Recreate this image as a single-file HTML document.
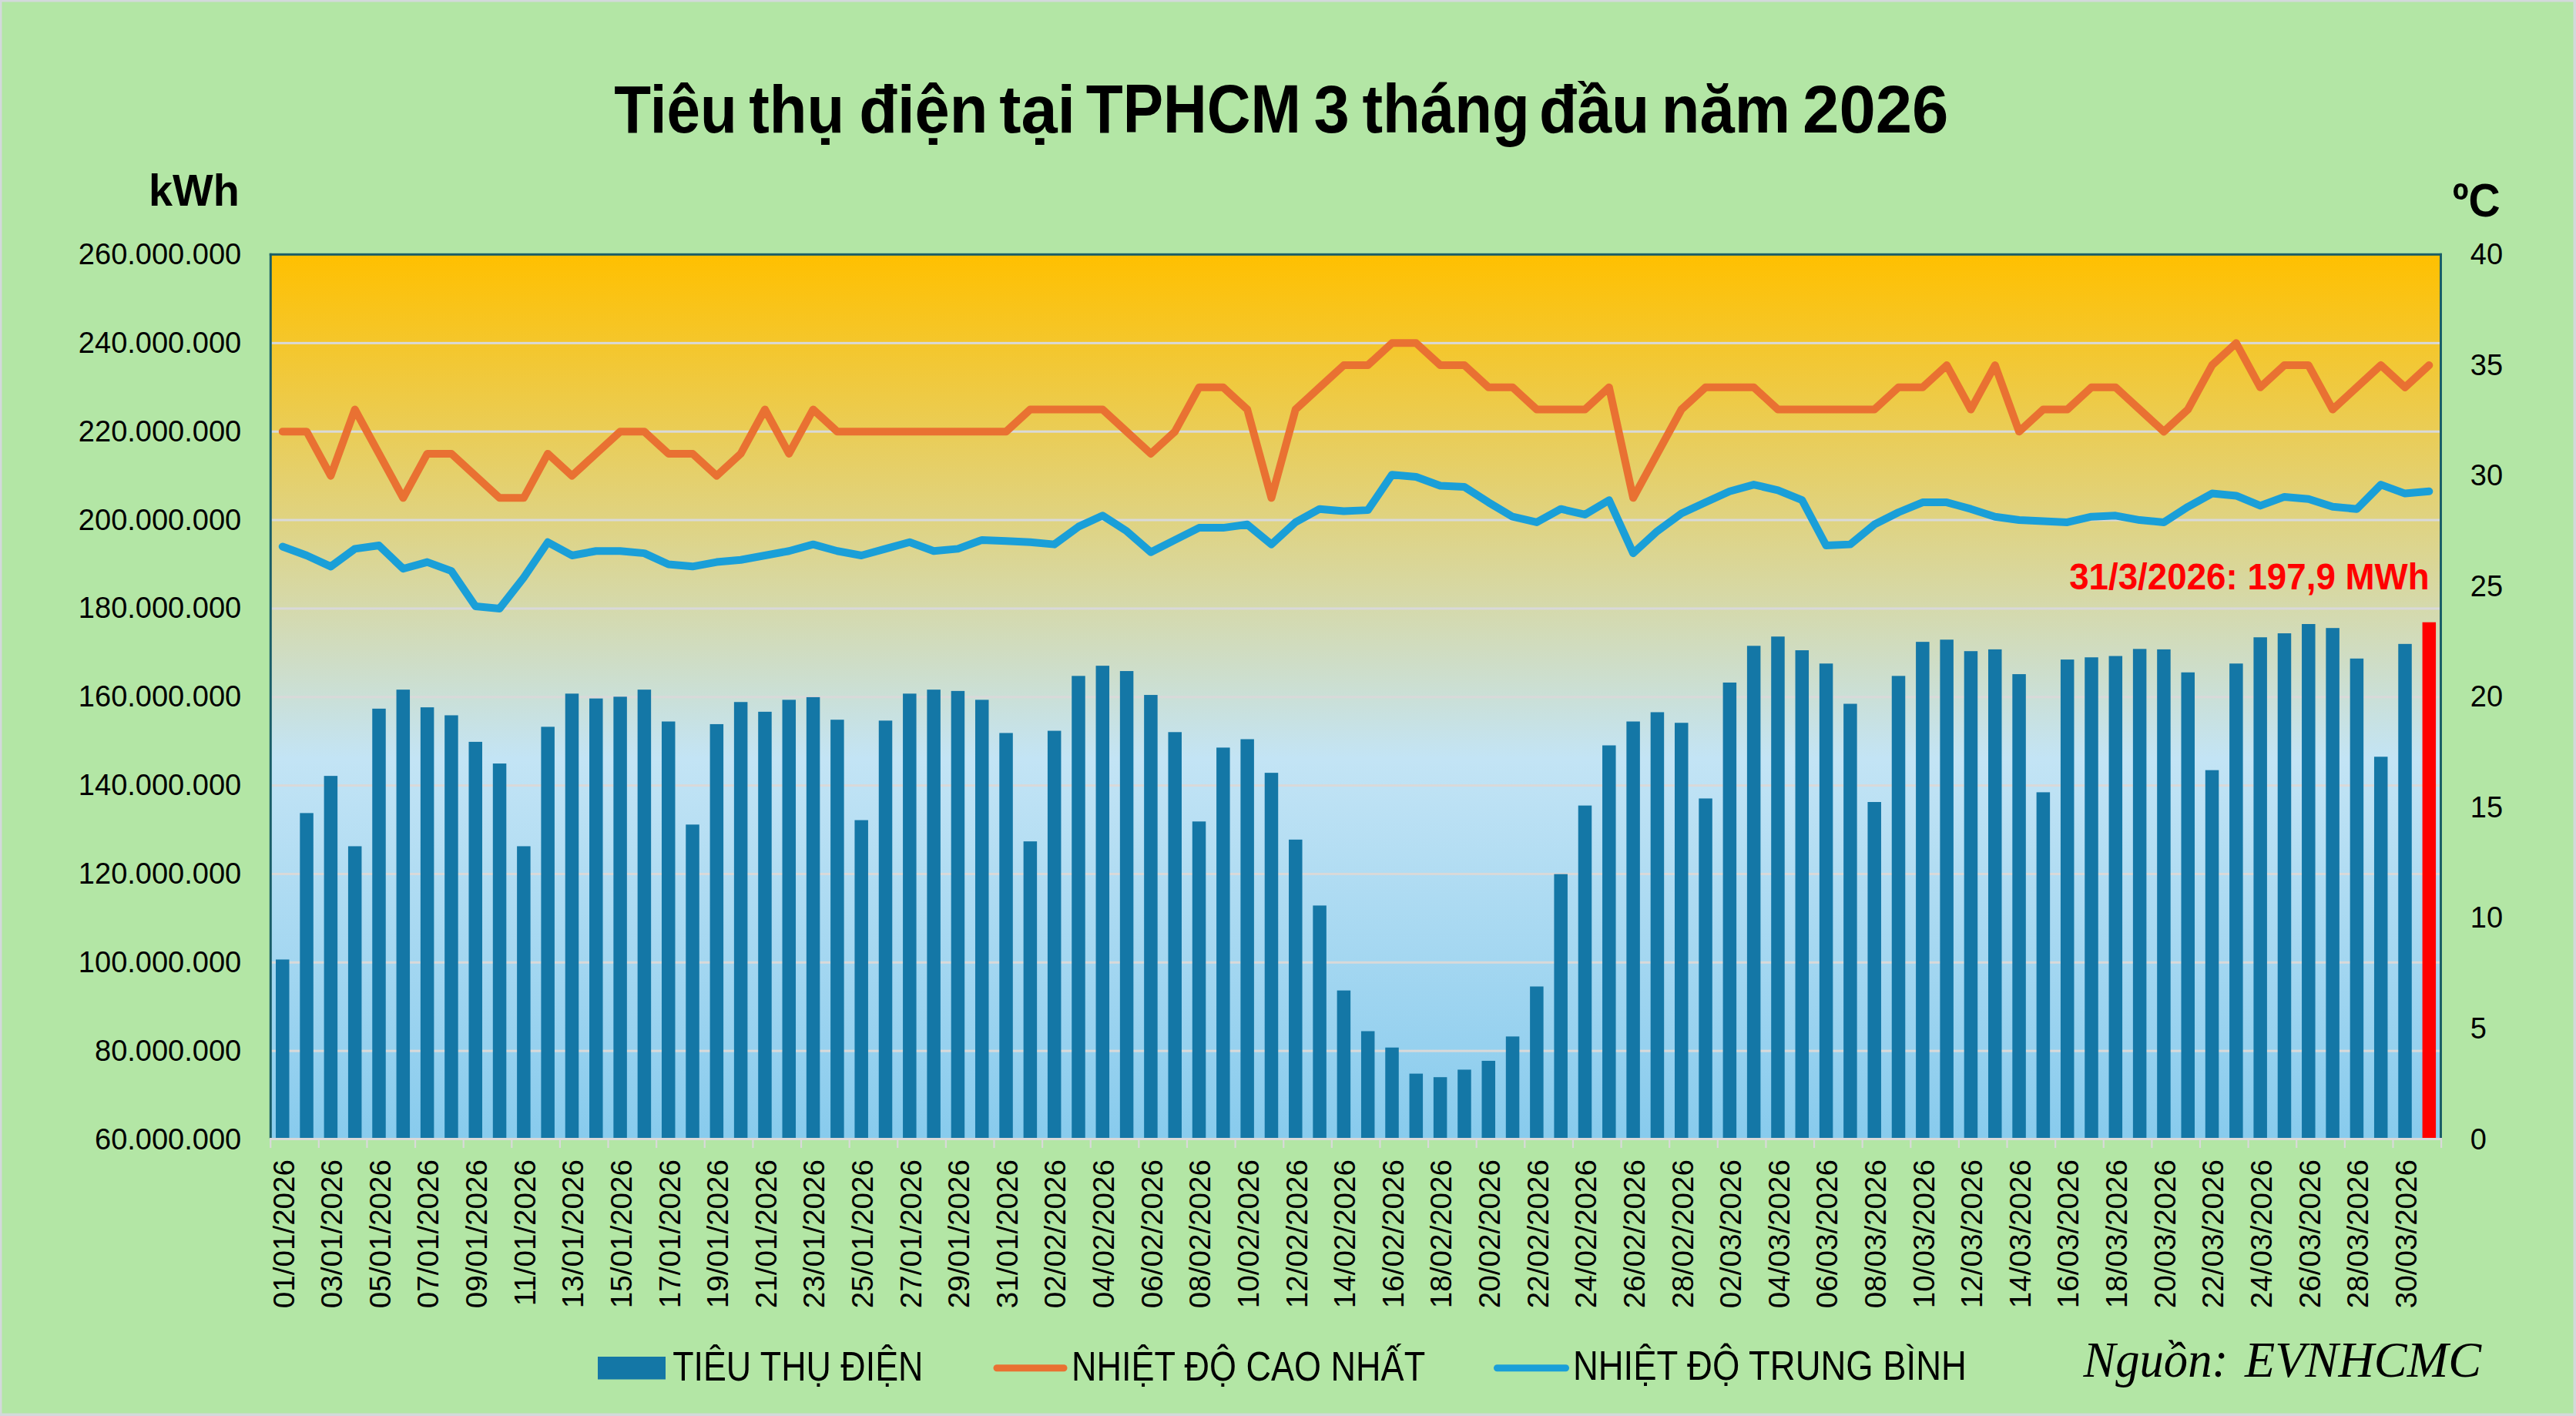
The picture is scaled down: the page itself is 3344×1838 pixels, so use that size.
<!DOCTYPE html><html><head><meta charset="utf-8"><style>html,body{margin:0;padding:0;width:3344px;height:1838px;overflow:hidden;background:#B3E6A5}</style></head><body><svg width="3344" height="1838" viewBox="0 0 3344 1838" style="display:block">
<defs><linearGradient id="pg" x1="0" y1="0" x2="0" y2="1"><stop offset="0" stop-color="#FFC000"/><stop offset="0.57" stop-color="#C3E4F5"/><stop offset="1" stop-color="#88CBED"/></linearGradient></defs>
<rect x="0" y="0" width="3344" height="1838" fill="#D3D9DB"/>
<rect x="2.5" y="2.5" width="3338.0" height="1832.0" fill="#B3E6A5"/>
<rect x="351" y="330" width="2817.5" height="1148" fill="url(#pg)"/>
<rect x="352" y="1362.65" width="2815" height="3" fill="#D9D9D9"/>
<rect x="352" y="1247.80" width="2815" height="3" fill="#D9D9D9"/>
<rect x="352" y="1132.95" width="2815" height="3" fill="#D9D9D9"/>
<rect x="352" y="1018.10" width="2815" height="3" fill="#D9D9D9"/>
<rect x="352" y="903.25" width="2815" height="3" fill="#D9D9D9"/>
<rect x="352" y="788.40" width="2815" height="3" fill="#D9D9D9"/>
<rect x="352" y="673.55" width="2815" height="3" fill="#D9D9D9"/>
<rect x="352" y="558.70" width="2815" height="3" fill="#D9D9D9"/>
<rect x="352" y="443.85" width="2815" height="3" fill="#D9D9D9"/>
<rect x="358.00" y="1245.45" width="17.5" height="231.55" fill="#1477A6"/>
<rect x="389.31" y="1055.38" width="17.5" height="421.62" fill="#1477A6"/>
<rect x="420.62" y="1007.14" width="17.5" height="469.86" fill="#1477A6"/>
<rect x="451.94" y="1098.44" width="17.5" height="378.56" fill="#1477A6"/>
<rect x="483.25" y="919.85" width="17.5" height="557.15" fill="#1477A6"/>
<rect x="514.56" y="895.16" width="17.5" height="581.84" fill="#1477A6"/>
<rect x="545.87" y="918.13" width="17.5" height="558.87" fill="#1477A6"/>
<rect x="577.17" y="928.47" width="17.5" height="548.53" fill="#1477A6"/>
<rect x="608.49" y="962.92" width="17.5" height="514.08" fill="#1477A6"/>
<rect x="639.80" y="991.06" width="17.5" height="485.94" fill="#1477A6"/>
<rect x="671.11" y="1098.44" width="17.5" height="378.56" fill="#1477A6"/>
<rect x="702.41" y="943.40" width="17.5" height="533.60" fill="#1477A6"/>
<rect x="733.73" y="900.33" width="17.5" height="576.67" fill="#1477A6"/>
<rect x="765.04" y="906.65" width="17.5" height="570.35" fill="#1477A6"/>
<rect x="796.35" y="904.35" width="17.5" height="572.65" fill="#1477A6"/>
<rect x="827.65" y="895.16" width="17.5" height="581.84" fill="#1477A6"/>
<rect x="858.97" y="936.51" width="17.5" height="540.49" fill="#1477A6"/>
<rect x="890.27" y="1070.31" width="17.5" height="406.69" fill="#1477A6"/>
<rect x="921.59" y="939.95" width="17.5" height="537.05" fill="#1477A6"/>
<rect x="952.89" y="911.24" width="17.5" height="565.76" fill="#1477A6"/>
<rect x="984.21" y="923.87" width="17.5" height="553.13" fill="#1477A6"/>
<rect x="1015.51" y="908.37" width="17.5" height="568.63" fill="#1477A6"/>
<rect x="1046.83" y="904.92" width="17.5" height="572.08" fill="#1477A6"/>
<rect x="1078.13" y="934.21" width="17.5" height="542.79" fill="#1477A6"/>
<rect x="1109.44" y="1064.56" width="17.5" height="412.44" fill="#1477A6"/>
<rect x="1140.76" y="935.36" width="17.5" height="541.64" fill="#1477A6"/>
<rect x="1172.07" y="900.33" width="17.5" height="576.67" fill="#1477A6"/>
<rect x="1203.38" y="895.16" width="17.5" height="581.84" fill="#1477A6"/>
<rect x="1234.68" y="896.88" width="17.5" height="580.12" fill="#1477A6"/>
<rect x="1265.99" y="908.37" width="17.5" height="568.63" fill="#1477A6"/>
<rect x="1297.30" y="951.44" width="17.5" height="525.56" fill="#1477A6"/>
<rect x="1328.62" y="1092.13" width="17.5" height="384.87" fill="#1477A6"/>
<rect x="1359.92" y="948.57" width="17.5" height="528.43" fill="#1477A6"/>
<rect x="1391.24" y="877.36" width="17.5" height="599.64" fill="#1477A6"/>
<rect x="1422.55" y="864.15" width="17.5" height="612.85" fill="#1477A6"/>
<rect x="1453.86" y="871.04" width="17.5" height="605.96" fill="#1477A6"/>
<rect x="1485.16" y="902.05" width="17.5" height="574.95" fill="#1477A6"/>
<rect x="1516.47" y="950.29" width="17.5" height="526.71" fill="#1477A6"/>
<rect x="1547.78" y="1066.29" width="17.5" height="410.71" fill="#1477A6"/>
<rect x="1579.09" y="970.39" width="17.5" height="506.61" fill="#1477A6"/>
<rect x="1610.40" y="959.48" width="17.5" height="517.52" fill="#1477A6"/>
<rect x="1641.72" y="1003.12" width="17.5" height="473.88" fill="#1477A6"/>
<rect x="1673.03" y="1089.83" width="17.5" height="387.17" fill="#1477A6"/>
<rect x="1704.34" y="1175.39" width="17.5" height="301.61" fill="#1477A6"/>
<rect x="1735.64" y="1285.65" width="17.5" height="191.35" fill="#1477A6"/>
<rect x="1766.95" y="1338.48" width="17.5" height="138.52" fill="#1477A6"/>
<rect x="1798.26" y="1359.73" width="17.5" height="117.27" fill="#1477A6"/>
<rect x="1829.57" y="1393.61" width="17.5" height="83.39" fill="#1477A6"/>
<rect x="1860.88" y="1398.20" width="17.5" height="78.80" fill="#1477A6"/>
<rect x="1892.20" y="1388.44" width="17.5" height="88.56" fill="#1477A6"/>
<rect x="1923.51" y="1376.96" width="17.5" height="100.04" fill="#1477A6"/>
<rect x="1954.82" y="1345.37" width="17.5" height="131.63" fill="#1477A6"/>
<rect x="1986.12" y="1280.48" width="17.5" height="196.52" fill="#1477A6"/>
<rect x="2017.43" y="1134.62" width="17.5" height="342.38" fill="#1477A6"/>
<rect x="2048.74" y="1045.61" width="17.5" height="431.39" fill="#1477A6"/>
<rect x="2080.05" y="967.52" width="17.5" height="509.48" fill="#1477A6"/>
<rect x="2111.36" y="936.51" width="17.5" height="540.49" fill="#1477A6"/>
<rect x="2142.67" y="924.45" width="17.5" height="552.55" fill="#1477A6"/>
<rect x="2173.99" y="938.23" width="17.5" height="538.77" fill="#1477A6"/>
<rect x="2205.30" y="1036.43" width="17.5" height="440.57" fill="#1477A6"/>
<rect x="2236.61" y="885.97" width="17.5" height="591.03" fill="#1477A6"/>
<rect x="2267.91" y="838.31" width="17.5" height="638.69" fill="#1477A6"/>
<rect x="2299.22" y="826.25" width="17.5" height="650.75" fill="#1477A6"/>
<rect x="2330.53" y="844.05" width="17.5" height="632.95" fill="#1477A6"/>
<rect x="2361.84" y="861.28" width="17.5" height="615.72" fill="#1477A6"/>
<rect x="2393.15" y="913.54" width="17.5" height="563.46" fill="#1477A6"/>
<rect x="2424.46" y="1041.02" width="17.5" height="435.98" fill="#1477A6"/>
<rect x="2455.77" y="877.36" width="17.5" height="599.64" fill="#1477A6"/>
<rect x="2487.09" y="833.14" width="17.5" height="643.86" fill="#1477A6"/>
<rect x="2518.39" y="830.27" width="17.5" height="646.73" fill="#1477A6"/>
<rect x="2549.70" y="845.20" width="17.5" height="631.80" fill="#1477A6"/>
<rect x="2581.01" y="842.90" width="17.5" height="634.10" fill="#1477A6"/>
<rect x="2612.32" y="875.06" width="17.5" height="601.94" fill="#1477A6"/>
<rect x="2643.63" y="1028.39" width="17.5" height="448.61" fill="#1477A6"/>
<rect x="2674.94" y="856.11" width="17.5" height="620.89" fill="#1477A6"/>
<rect x="2706.25" y="853.24" width="17.5" height="623.76" fill="#1477A6"/>
<rect x="2737.56" y="851.52" width="17.5" height="625.48" fill="#1477A6"/>
<rect x="2768.88" y="842.33" width="17.5" height="634.67" fill="#1477A6"/>
<rect x="2800.18" y="842.90" width="17.5" height="634.10" fill="#1477A6"/>
<rect x="2831.49" y="872.76" width="17.5" height="604.24" fill="#1477A6"/>
<rect x="2862.80" y="999.67" width="17.5" height="477.33" fill="#1477A6"/>
<rect x="2894.11" y="861.28" width="17.5" height="615.72" fill="#1477A6"/>
<rect x="2925.42" y="827.23" width="17.5" height="649.77" fill="#1477A6"/>
<rect x="2956.73" y="822.06" width="17.5" height="654.94" fill="#1477A6"/>
<rect x="2988.04" y="810.00" width="17.5" height="667.00" fill="#1477A6"/>
<rect x="3019.36" y="815.17" width="17.5" height="661.83" fill="#1477A6"/>
<rect x="3050.66" y="854.79" width="17.5" height="622.21" fill="#1477A6"/>
<rect x="3081.97" y="982.27" width="17.5" height="494.73" fill="#1477A6"/>
<rect x="3113.28" y="835.84" width="17.5" height="641.16" fill="#1477A6"/>
<rect x="3144.59" y="807.70" width="17.5" height="669.30" fill="#FF0000"/>
<rect x="349.8" y="328.8" width="2820.2" height="3" fill="#1A5E68"/>
<rect x="349.8" y="328.8" width="3" height="1149.2" fill="#1A5E68"/>
<rect x="3167" y="328.8" width="3" height="1149.2" fill="#1A5E68"/>
<rect x="350" y="1477" width="2820" height="3" fill="#D9D9D9"/>
<rect x="350.10" y="1479" width="2.2" height="11" fill="#D9D9D9"/>
<rect x="412.72" y="1479" width="2.2" height="11" fill="#D9D9D9"/>
<rect x="475.34" y="1479" width="2.2" height="11" fill="#D9D9D9"/>
<rect x="537.96" y="1479" width="2.2" height="11" fill="#D9D9D9"/>
<rect x="600.58" y="1479" width="2.2" height="11" fill="#D9D9D9"/>
<rect x="663.20" y="1479" width="2.2" height="11" fill="#D9D9D9"/>
<rect x="725.82" y="1479" width="2.2" height="11" fill="#D9D9D9"/>
<rect x="788.44" y="1479" width="2.2" height="11" fill="#D9D9D9"/>
<rect x="851.06" y="1479" width="2.2" height="11" fill="#D9D9D9"/>
<rect x="913.68" y="1479" width="2.2" height="11" fill="#D9D9D9"/>
<rect x="976.30" y="1479" width="2.2" height="11" fill="#D9D9D9"/>
<rect x="1038.92" y="1479" width="2.2" height="11" fill="#D9D9D9"/>
<rect x="1101.54" y="1479" width="2.2" height="11" fill="#D9D9D9"/>
<rect x="1164.16" y="1479" width="2.2" height="11" fill="#D9D9D9"/>
<rect x="1226.78" y="1479" width="2.2" height="11" fill="#D9D9D9"/>
<rect x="1289.40" y="1479" width="2.2" height="11" fill="#D9D9D9"/>
<rect x="1352.02" y="1479" width="2.2" height="11" fill="#D9D9D9"/>
<rect x="1414.64" y="1479" width="2.2" height="11" fill="#D9D9D9"/>
<rect x="1477.26" y="1479" width="2.2" height="11" fill="#D9D9D9"/>
<rect x="1539.88" y="1479" width="2.2" height="11" fill="#D9D9D9"/>
<rect x="1602.50" y="1479" width="2.2" height="11" fill="#D9D9D9"/>
<rect x="1665.12" y="1479" width="2.2" height="11" fill="#D9D9D9"/>
<rect x="1727.74" y="1479" width="2.2" height="11" fill="#D9D9D9"/>
<rect x="1790.36" y="1479" width="2.2" height="11" fill="#D9D9D9"/>
<rect x="1852.98" y="1479" width="2.2" height="11" fill="#D9D9D9"/>
<rect x="1915.60" y="1479" width="2.2" height="11" fill="#D9D9D9"/>
<rect x="1978.22" y="1479" width="2.2" height="11" fill="#D9D9D9"/>
<rect x="2040.84" y="1479" width="2.2" height="11" fill="#D9D9D9"/>
<rect x="2103.46" y="1479" width="2.2" height="11" fill="#D9D9D9"/>
<rect x="2166.08" y="1479" width="2.2" height="11" fill="#D9D9D9"/>
<rect x="2228.70" y="1479" width="2.2" height="11" fill="#D9D9D9"/>
<rect x="2291.32" y="1479" width="2.2" height="11" fill="#D9D9D9"/>
<rect x="2353.94" y="1479" width="2.2" height="11" fill="#D9D9D9"/>
<rect x="2416.56" y="1479" width="2.2" height="11" fill="#D9D9D9"/>
<rect x="2479.18" y="1479" width="2.2" height="11" fill="#D9D9D9"/>
<rect x="2541.80" y="1479" width="2.2" height="11" fill="#D9D9D9"/>
<rect x="2604.42" y="1479" width="2.2" height="11" fill="#D9D9D9"/>
<rect x="2667.04" y="1479" width="2.2" height="11" fill="#D9D9D9"/>
<rect x="2729.66" y="1479" width="2.2" height="11" fill="#D9D9D9"/>
<rect x="2792.28" y="1479" width="2.2" height="11" fill="#D9D9D9"/>
<rect x="2854.90" y="1479" width="2.2" height="11" fill="#D9D9D9"/>
<rect x="2917.52" y="1479" width="2.2" height="11" fill="#D9D9D9"/>
<rect x="2980.14" y="1479" width="2.2" height="11" fill="#D9D9D9"/>
<rect x="3042.76" y="1479" width="2.2" height="11" fill="#D9D9D9"/>
<rect x="3105.38" y="1479" width="2.2" height="11" fill="#D9D9D9"/>
<rect x="3168.00" y="1479" width="2.2" height="11" fill="#D9D9D9"/>
<path d="M366.75,560.20 L398.06,560.20 L429.38,617.62 L460.69,531.49 L492.00,588.91 L523.31,646.34 L554.62,588.91 L585.92,588.91 L617.24,617.62 L648.55,646.34 L679.86,646.34 L711.16,588.91 L742.48,617.62 L773.79,588.91 L805.10,560.20 L836.40,560.20 L867.72,588.91 L899.02,588.91 L930.34,617.62 L961.64,588.91 L992.96,531.49 L1024.26,588.91 L1055.58,531.49 L1086.88,560.20 L1118.19,560.20 L1149.51,560.20 L1180.82,560.20 L1212.12,560.20 L1243.43,560.20 L1274.74,560.20 L1306.05,560.20 L1337.37,531.49 L1368.67,531.49 L1399.99,531.49 L1431.30,531.49 L1462.61,560.20 L1493.91,588.91 L1525.22,560.20 L1556.53,502.77 L1587.84,502.77 L1619.15,531.49 L1650.47,646.34 L1681.78,531.49 L1713.09,502.77 L1744.39,474.06 L1775.70,474.06 L1807.01,445.35 L1838.32,445.35 L1869.63,474.06 L1900.95,474.06 L1932.26,502.77 L1963.57,502.77 L1994.88,531.49 L2026.18,531.49 L2057.49,531.49 L2088.80,502.77 L2120.11,646.34 L2151.42,588.91 L2182.74,531.49 L2214.05,502.77 L2245.36,502.77 L2276.66,502.77 L2307.97,531.49 L2339.28,531.49 L2370.59,531.49 L2401.90,531.49 L2433.21,531.49 L2464.52,502.77 L2495.84,502.77 L2527.14,474.06 L2558.45,531.49 L2589.76,474.06 L2621.07,560.20 L2652.38,531.49 L2683.69,531.49 L2715.00,502.77 L2746.31,502.77 L2777.62,531.49 L2808.93,560.20 L2840.24,531.49 L2871.55,474.06 L2902.86,445.35 L2934.17,502.77 L2965.48,474.06 L2996.79,474.06 L3028.11,531.49 L3059.41,502.77 L3090.72,474.06 L3122.03,502.77 L3153.34,474.06" fill="none" stroke="#E97132" stroke-width="10" stroke-linejoin="round" stroke-linecap="round"/>
<path d="M366.75,709.50 L398.06,720.99 L429.38,735.35 L460.69,712.38 L492.00,708.07 L523.31,738.22 L554.62,729.60 L585.92,741.09 L617.24,787.03 L648.55,789.90 L679.86,749.70 L711.16,703.76 L742.48,720.99 L773.79,715.25 L805.10,715.25 L836.40,718.12 L867.72,732.48 L899.02,735.35 L930.34,729.60 L961.64,726.73 L992.96,720.99 L1024.26,715.25 L1055.58,706.63 L1086.88,715.25 L1118.19,720.99 L1149.51,712.38 L1180.82,703.76 L1212.12,715.25 L1243.43,712.38 L1274.74,700.89 L1306.05,702.33 L1337.37,703.76 L1368.67,706.63 L1399.99,683.66 L1431.30,669.31 L1462.61,689.41 L1493.91,716.68 L1525.22,700.89 L1556.53,685.10 L1587.84,685.10 L1619.15,680.79 L1650.47,706.63 L1681.78,677.92 L1713.09,660.69 L1744.39,663.57 L1775.70,662.13 L1807.01,616.19 L1838.32,619.06 L1869.63,630.55 L1900.95,631.98 L1932.26,652.08 L1963.57,670.74 L1994.88,677.92 L2026.18,660.69 L2057.49,667.87 L2088.80,649.21 L2120.11,718.12 L2151.42,689.41 L2182.74,666.44 L2214.05,652.08 L2245.36,637.72 L2276.66,629.11 L2307.97,636.29 L2339.28,649.21 L2370.59,708.07 L2401.90,706.63 L2433.21,680.79 L2464.52,665.00 L2495.84,652.08 L2527.14,652.08 L2558.45,660.69 L2589.76,670.74 L2621.07,675.05 L2652.38,676.49 L2683.69,677.92 L2715.00,670.74 L2746.31,669.31 L2777.62,675.05 L2808.93,677.92 L2840.24,657.82 L2871.55,640.60 L2902.86,643.47 L2934.17,656.39 L2965.48,644.90 L2996.79,647.77 L3028.11,657.82 L3059.41,660.69 L3090.72,629.11 L3122.03,640.60 L3153.34,637.72" fill="none" stroke="#1A9FD8" stroke-width="10" stroke-linejoin="round" stroke-linecap="round"/>
<text x="313.2" y="1491.50" font-family="Liberation Sans" font-size="38" text-anchor="end" fill="#000">60.000.000</text>
<text x="313.2" y="1376.65" font-family="Liberation Sans" font-size="38" text-anchor="end" fill="#000">80.000.000</text>
<text x="313.2" y="1261.80" font-family="Liberation Sans" font-size="38" text-anchor="end" fill="#000">100.000.000</text>
<text x="313.2" y="1146.95" font-family="Liberation Sans" font-size="38" text-anchor="end" fill="#000">120.000.000</text>
<text x="313.2" y="1032.10" font-family="Liberation Sans" font-size="38" text-anchor="end" fill="#000">140.000.000</text>
<text x="313.2" y="917.25" font-family="Liberation Sans" font-size="38" text-anchor="end" fill="#000">160.000.000</text>
<text x="313.2" y="802.40" font-family="Liberation Sans" font-size="38" text-anchor="end" fill="#000">180.000.000</text>
<text x="313.2" y="687.55" font-family="Liberation Sans" font-size="38" text-anchor="end" fill="#000">200.000.000</text>
<text x="313.2" y="572.70" font-family="Liberation Sans" font-size="38" text-anchor="end" fill="#000">220.000.000</text>
<text x="313.2" y="457.85" font-family="Liberation Sans" font-size="38" text-anchor="end" fill="#000">240.000.000</text>
<text x="313.2" y="343.00" font-family="Liberation Sans" font-size="38" text-anchor="end" fill="#000">260.000.000</text>
<text x="3206.8" y="1491.50" font-family="Liberation Sans" font-size="38" fill="#000">0</text>
<text x="3206.8" y="1347.94" font-family="Liberation Sans" font-size="38" fill="#000">5</text>
<text x="3206.8" y="1204.38" font-family="Liberation Sans" font-size="38" fill="#000">10</text>
<text x="3206.8" y="1060.81" font-family="Liberation Sans" font-size="38" fill="#000">15</text>
<text x="3206.8" y="917.25" font-family="Liberation Sans" font-size="38" fill="#000">20</text>
<text x="3206.8" y="773.69" font-family="Liberation Sans" font-size="38" fill="#000">25</text>
<text x="3206.8" y="630.13" font-family="Liberation Sans" font-size="38" fill="#000">30</text>
<text x="3206.8" y="486.56" font-family="Liberation Sans" font-size="38" fill="#000">35</text>
<text x="3206.8" y="343.00" font-family="Liberation Sans" font-size="38" fill="#000">40</text>
<text transform="translate(381.56,1505) rotate(-90) scale(1.016,1)" font-family="Liberation Sans" font-size="38" text-anchor="end" fill="#000">01/01/2026</text>
<text transform="translate(444.18,1505) rotate(-90) scale(1.016,1)" font-family="Liberation Sans" font-size="38" text-anchor="end" fill="#000">03/01/2026</text>
<text transform="translate(506.80,1505) rotate(-90) scale(1.016,1)" font-family="Liberation Sans" font-size="38" text-anchor="end" fill="#000">05/01/2026</text>
<text transform="translate(569.41,1505) rotate(-90) scale(1.016,1)" font-family="Liberation Sans" font-size="38" text-anchor="end" fill="#000">07/01/2026</text>
<text transform="translate(632.03,1505) rotate(-90) scale(1.016,1)" font-family="Liberation Sans" font-size="38" text-anchor="end" fill="#000">09/01/2026</text>
<text transform="translate(694.65,1505) rotate(-90) scale(1.016,1)" font-family="Liberation Sans" font-size="38" text-anchor="end" fill="#000">11/01/2026</text>
<text transform="translate(757.27,1505) rotate(-90) scale(1.016,1)" font-family="Liberation Sans" font-size="38" text-anchor="end" fill="#000">13/01/2026</text>
<text transform="translate(819.89,1505) rotate(-90) scale(1.016,1)" font-family="Liberation Sans" font-size="38" text-anchor="end" fill="#000">15/01/2026</text>
<text transform="translate(882.51,1505) rotate(-90) scale(1.016,1)" font-family="Liberation Sans" font-size="38" text-anchor="end" fill="#000">17/01/2026</text>
<text transform="translate(945.13,1505) rotate(-90) scale(1.016,1)" font-family="Liberation Sans" font-size="38" text-anchor="end" fill="#000">19/01/2026</text>
<text transform="translate(1007.75,1505) rotate(-90) scale(1.016,1)" font-family="Liberation Sans" font-size="38" text-anchor="end" fill="#000">21/01/2026</text>
<text transform="translate(1070.38,1505) rotate(-90) scale(1.016,1)" font-family="Liberation Sans" font-size="38" text-anchor="end" fill="#000">23/01/2026</text>
<text transform="translate(1132.99,1505) rotate(-90) scale(1.016,1)" font-family="Liberation Sans" font-size="38" text-anchor="end" fill="#000">25/01/2026</text>
<text transform="translate(1195.62,1505) rotate(-90) scale(1.016,1)" font-family="Liberation Sans" font-size="38" text-anchor="end" fill="#000">27/01/2026</text>
<text transform="translate(1258.23,1505) rotate(-90) scale(1.016,1)" font-family="Liberation Sans" font-size="38" text-anchor="end" fill="#000">29/01/2026</text>
<text transform="translate(1320.85,1505) rotate(-90) scale(1.016,1)" font-family="Liberation Sans" font-size="38" text-anchor="end" fill="#000">31/01/2026</text>
<text transform="translate(1383.47,1505) rotate(-90) scale(1.016,1)" font-family="Liberation Sans" font-size="38" text-anchor="end" fill="#000">02/02/2026</text>
<text transform="translate(1446.10,1505) rotate(-90) scale(1.016,1)" font-family="Liberation Sans" font-size="38" text-anchor="end" fill="#000">04/02/2026</text>
<text transform="translate(1508.71,1505) rotate(-90) scale(1.016,1)" font-family="Liberation Sans" font-size="38" text-anchor="end" fill="#000">06/02/2026</text>
<text transform="translate(1571.33,1505) rotate(-90) scale(1.016,1)" font-family="Liberation Sans" font-size="38" text-anchor="end" fill="#000">08/02/2026</text>
<text transform="translate(1633.95,1505) rotate(-90) scale(1.016,1)" font-family="Liberation Sans" font-size="38" text-anchor="end" fill="#000">10/02/2026</text>
<text transform="translate(1696.58,1505) rotate(-90) scale(1.016,1)" font-family="Liberation Sans" font-size="38" text-anchor="end" fill="#000">12/02/2026</text>
<text transform="translate(1759.19,1505) rotate(-90) scale(1.016,1)" font-family="Liberation Sans" font-size="38" text-anchor="end" fill="#000">14/02/2026</text>
<text transform="translate(1821.81,1505) rotate(-90) scale(1.016,1)" font-family="Liberation Sans" font-size="38" text-anchor="end" fill="#000">16/02/2026</text>
<text transform="translate(1884.43,1505) rotate(-90) scale(1.016,1)" font-family="Liberation Sans" font-size="38" text-anchor="end" fill="#000">18/02/2026</text>
<text transform="translate(1947.06,1505) rotate(-90) scale(1.016,1)" font-family="Liberation Sans" font-size="38" text-anchor="end" fill="#000">20/02/2026</text>
<text transform="translate(2009.67,1505) rotate(-90) scale(1.016,1)" font-family="Liberation Sans" font-size="38" text-anchor="end" fill="#000">22/02/2026</text>
<text transform="translate(2072.30,1505) rotate(-90) scale(1.016,1)" font-family="Liberation Sans" font-size="38" text-anchor="end" fill="#000">24/02/2026</text>
<text transform="translate(2134.91,1505) rotate(-90) scale(1.016,1)" font-family="Liberation Sans" font-size="38" text-anchor="end" fill="#000">26/02/2026</text>
<text transform="translate(2197.54,1505) rotate(-90) scale(1.016,1)" font-family="Liberation Sans" font-size="38" text-anchor="end" fill="#000">28/02/2026</text>
<text transform="translate(2260.16,1505) rotate(-90) scale(1.016,1)" font-family="Liberation Sans" font-size="38" text-anchor="end" fill="#000">02/03/2026</text>
<text transform="translate(2322.78,1505) rotate(-90) scale(1.016,1)" font-family="Liberation Sans" font-size="38" text-anchor="end" fill="#000">04/03/2026</text>
<text transform="translate(2385.39,1505) rotate(-90) scale(1.016,1)" font-family="Liberation Sans" font-size="38" text-anchor="end" fill="#000">06/03/2026</text>
<text transform="translate(2448.01,1505) rotate(-90) scale(1.016,1)" font-family="Liberation Sans" font-size="38" text-anchor="end" fill="#000">08/03/2026</text>
<text transform="translate(2510.64,1505) rotate(-90) scale(1.016,1)" font-family="Liberation Sans" font-size="38" text-anchor="end" fill="#000">10/03/2026</text>
<text transform="translate(2573.26,1505) rotate(-90) scale(1.016,1)" font-family="Liberation Sans" font-size="38" text-anchor="end" fill="#000">12/03/2026</text>
<text transform="translate(2635.88,1505) rotate(-90) scale(1.016,1)" font-family="Liberation Sans" font-size="38" text-anchor="end" fill="#000">14/03/2026</text>
<text transform="translate(2698.49,1505) rotate(-90) scale(1.016,1)" font-family="Liberation Sans" font-size="38" text-anchor="end" fill="#000">16/03/2026</text>
<text transform="translate(2761.11,1505) rotate(-90) scale(1.016,1)" font-family="Liberation Sans" font-size="38" text-anchor="end" fill="#000">18/03/2026</text>
<text transform="translate(2823.74,1505) rotate(-90) scale(1.016,1)" font-family="Liberation Sans" font-size="38" text-anchor="end" fill="#000">20/03/2026</text>
<text transform="translate(2886.36,1505) rotate(-90) scale(1.016,1)" font-family="Liberation Sans" font-size="38" text-anchor="end" fill="#000">22/03/2026</text>
<text transform="translate(2948.97,1505) rotate(-90) scale(1.016,1)" font-family="Liberation Sans" font-size="38" text-anchor="end" fill="#000">24/03/2026</text>
<text transform="translate(3011.59,1505) rotate(-90) scale(1.016,1)" font-family="Liberation Sans" font-size="38" text-anchor="end" fill="#000">26/03/2026</text>
<text transform="translate(3074.22,1505) rotate(-90) scale(1.016,1)" font-family="Liberation Sans" font-size="38" text-anchor="end" fill="#000">28/03/2026</text>
<text transform="translate(3136.84,1505) rotate(-90) scale(1.016,1)" font-family="Liberation Sans" font-size="38" text-anchor="end" fill="#000">30/03/2026</text>
<rect x="776" y="1761" width="88" height="29.5" fill="#1477A6"/>
<line x1="1294" y1="1775.8" x2="1381" y2="1775.8" stroke="#E97132" stroke-width="9" stroke-linecap="round"/>
<line x1="1943.5" y1="1775.8" x2="2032.5" y2="1775.8" stroke="#1A9FD8" stroke-width="9" stroke-linecap="round"/>
<text transform="translate(797.31,172) scale(0.8895,1)" font-family="Liberation Sans" font-weight="bold" font-style="normal" font-size="88" fill="#000">Tiêu</text>
<text transform="translate(972.29,172) scale(0.9062,1)" font-family="Liberation Sans" font-weight="bold" font-style="normal" font-size="88" fill="#000">thụ</text>
<text transform="translate(1115.20,172) scale(0.9244,1)" font-family="Liberation Sans" font-weight="bold" font-style="normal" font-size="88" fill="#000">điện</text>
<text transform="translate(1297.24,172) scale(0.9632,1)" font-family="Liberation Sans" font-weight="bold" font-style="normal" font-size="88" fill="#000">tại</text>
<text transform="translate(1409.81,172) scale(0.8922,1)" font-family="Liberation Sans" font-weight="bold" font-style="normal" font-size="88" fill="#000">TPHCM</text>
<text transform="translate(1705.51,172) scale(0.9455,1)" font-family="Liberation Sans" font-weight="bold" font-style="normal" font-size="88" fill="#000">3</text>
<text transform="translate(1768.39,172) scale(0.9073,1)" font-family="Liberation Sans" font-weight="bold" font-style="normal" font-size="88" fill="#000">tháng</text>
<text transform="translate(1997.94,172) scale(0.9156,1)" font-family="Liberation Sans" font-weight="bold" font-style="normal" font-size="88" fill="#000">đầu</text>
<text transform="translate(2156.85,172) scale(0.9247,1)" font-family="Liberation Sans" font-weight="bold" font-style="normal" font-size="88" fill="#000">năm</text>
<text transform="translate(2340.10,172) scale(0.9667,1)" font-family="Liberation Sans" font-weight="bold" font-style="normal" font-size="88" fill="#000">2026</text>
<text transform="translate(193.02,266.8) scale(0.9702,1)" font-family="Liberation Sans" font-weight="bold" font-style="normal" font-size="57.5" fill="#000">kWh</text>
<text transform="translate(3183.67,281) scale(0.9333,1)" font-family="Liberation Sans" font-weight="bold" font-style="normal" font-size="61" fill="#000">ºC</text>
<text transform="translate(2686.15,765.1) scale(0.9526,1)" font-family="Liberation Sans" font-weight="bold" font-style="normal" font-size="48" fill="#F00">31/3/2026: 197,9 MWh</text>
<text transform="translate(873.15,1791.8) scale(0.8456,1)" font-family="Liberation Sans" font-weight="normal" font-style="normal" font-size="53" fill="#000">TIÊU THỤ ĐIỆN</text>
<text transform="translate(1390.90,1791.8) scale(0.8493,1)" font-family="Liberation Sans" font-weight="normal" font-style="normal" font-size="53" fill="#000">NHIỆT ĐỘ CAO NHẤT</text>
<text transform="translate(2041.97,1791.3) scale(0.8576,1)" font-family="Liberation Sans" font-weight="normal" font-style="normal" font-size="53" fill="#000">NHIỆT ĐỘ TRUNG BÌNH</text>
<text transform="translate(2704.50,1786.6) scale(0.9632,1)" font-family="Liberation Serif" font-weight="normal" font-style="italic" font-size="65" fill="#000">Nguồn:</text>
<text transform="translate(2914.09,1786.6) scale(0.9888,1)" font-family="Liberation Serif" font-weight="normal" font-style="italic" font-size="65" fill="#000">EVNHCMC</text>
</svg></body></html>
